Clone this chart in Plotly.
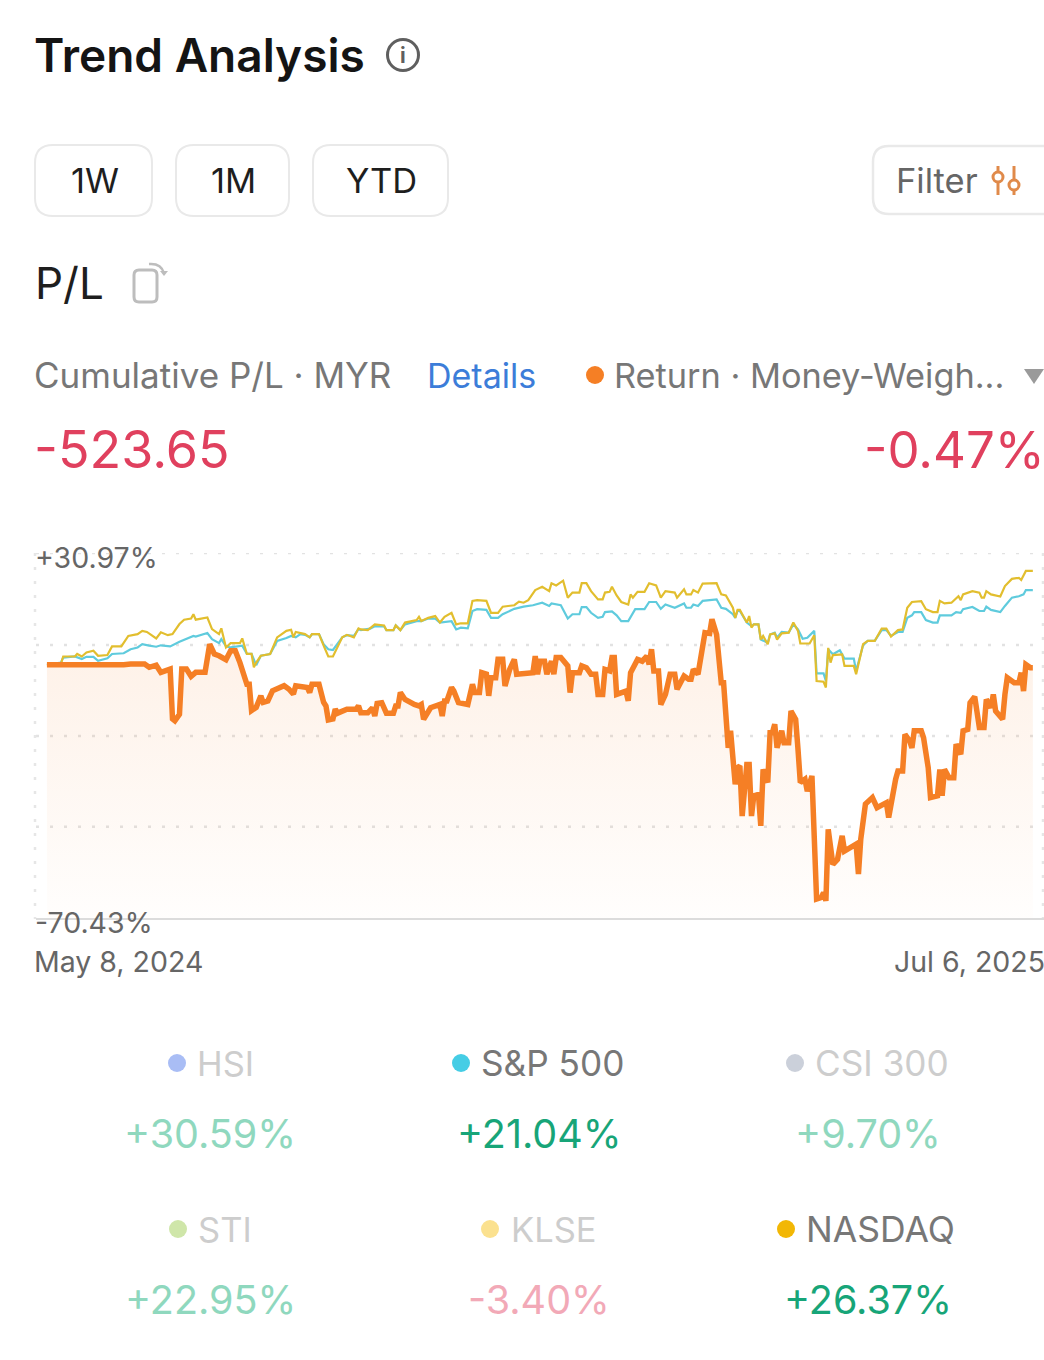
import pandas as pd
import plotly.graph_objects as go

START = pd.Timestamp("2024-05-08")
Y_TOP, Y_BOTTOM = 30.97, -70.43
GRID_VALUES = [30.97, 5.5, -19.7, -44.9]
RANGE_DAYS = [-4.7, 428.8]

orange_days = [0,33,36,42,44,47,49,53,54,55,57,58,60,62,64,68,70,72,74,77,79,81,83,86,87,88,90,92,93,95,97,102,104,106,107,112,113,114,117,119,120,121,123,124,125,129,133,134,
135,138,140,141,142,144,146,149,150,151,152,154,158,160,161,162,165,169,170,171,172,174,175,177,181,183,184,186,187,189,190,191,193,194,196,197,199,201,202,209,210,211,212,214,215,217,218,219,221,224,225,226,229,230,232,234,236,237,239,240,242,243,244,245,249,250,251,254,256,258,259,260,261,263,264,266,268,270,271,274,276,
277,278,280,283,285,286,288,290,291,293,294,296,297,298,299,301,302,303,304,306,307,308,310,311,312,313,314,316,317,319,320,322,323,324,326,327,329,331,333,334,335,336,338,340,342,343,348,349,350,352,355,357,361,362,365,366,368,369,371,372,373,376,377,379,380,383,384,385,386,388,390,391,393,394,396,397,399,401,403,404,406,407,408,411,412,413,416,418,419,420,421,423,424]
orange_pct = [0.0,0.0,0.2,0.2,-0.7,-0.1,-2.1,-1.2,-15.0,-15.5,-13.7,-1.2,-1.2,-3.2,-2.1,-2.1,5.7,3.0,2.5,1.4,3.9,3.9,0.6,-5.4,-5.4,-12.7,-11.8,-8.6,-10.4,-10.0,-7.2,-5.8,-6.7,-8.1,-5.8,-6.3,-7.7,-5.4,-5.4,-10.4,-11.4,-15.3,-15.0,-12.3,-13.4,-12.3,-12.3,-11.4,
-13.3,-13.3,-11.9,-14.2,-10.7,-10.5,-13.4,-13.4,-11.4,-11.4,-7.7,-9.6,-11.0,-11.4,-11.0,-15.1,-11.9,-11.0,-14.2,-10.0,-10.0,-6.3,-7.3,-10.5,-11.0,-5.4,-7.7,-7.7,-2.2,-2.6,-8.6,-3.6,-3.6,1.5,1.5,-5.9,-1.3,1.5,-2.6,-2.2,2.4,-2.6,1.0,1.0,-2.6,1.0,-2.6,2.0,2.0,-0.3,-7.7,-2.2,-2.2,-0.3,-0.8,-2.6,-2.6,-8.2,-8.2,-1.3,-1.7,2.0,2.0,-8.2,-7.3,-10.0,-2.2,1.5,1.0,2.4,0.1,4.3,-1.7,-1.7,-11.0,-8.2,-2.6,-2.6,-6.8,-3.1,-4.0,
-4.0,-1.3,-2.6,8.9,8.7,12.6,8.4,-5.0,-5.0,-23.0,-18.3,-33.1,-28.5,-28.0,-41.9,-27.6,-27.6,-41.9,-36.3,-35.9,-44.6,-29.0,-32.6,-18.8,-18.8,-16.5,-23.0,-18.3,-21.6,-21.6,-12.8,-15.1,-23.4,-32.6,-31.7,-35.0,-30.8,-64.9,-64.5,-63.1,-65.4,-45.6,-55.3,-53.9,-47.4,-51.6,-49.7,-58.0,-48.3,-38.6,-36.8,-39.6,-38.2,-42.3,-31.7,-29.4,-29.4,-19.3,-21.1,-23.0,-18.3,-18.3,-20.2,-28.5,-36.8,-36.3,-29.0,-36.3,-29.0,-31.3,-31.3,-22.0,-24.8,-18.3,-17.9,-10.5,-8.8,-17.4,-17.4,-9.6,-11.9,-8.2,-12.8,-15.1,-8.2,-3.6,-5.0,-5.0,-2.2,-7.3,0.1,-0.8,-0.8]

nasdaq_days = [0,6,7,12,13,15,17,20,22,26,28,32,35,39,41,43,47,49,52,54,57,59,62,63,64,69,71,74,75,77,79,83,84,86,88,89,90,92,96,99,103,105,106,107,111,113,114,117,119,121,123,127,129,132,134,
135,138,141,145,146,149,150,152,154,159,160,161,164,167,169,171,174,176,178,181,183,185,189,191,194,196,201,203,205,207,210,213,216,217,219,222,224,226,229,230,232,234,237,239,240,242,243,245,247,250,251,252,254,257,259,262,264,266,270,271,274,275,
277,278,280,282,288,290,292,295,296,297,298,301,302,303,304,306,307,308,310,311,313,314,316,319,321,323,324,328,330,331,334,335,336,337,338,342,343,347,348,351,353,356,359,361,363,366,368,370,372,376,378,381,383,384,386,389,392,393,394,398,401,402,403,404,406,410,412,415,418,419,421,424]
nasdaq_pct = [0.0,0.2,2.3,2.3,3.0,2.3,3.4,3.9,2.5,2.7,5.1,5.1,8.0,8.5,9.4,9.1,7.3,9.0,8.2,8.5,11.3,12.5,12.8,14.0,12.5,13.1,9.9,8.5,10.1,4.8,6.0,6.0,7.3,3.0,3.0,-0.7,0.6,2.5,3.0,7.6,9.4,9.7,7.6,9.1,8.5,7.6,8.5,8.5,5.3,2.3,2.3,7.6,8.3,7.6,10.1,
9.8,9.6,11.2,10.9,9.6,9.6,10.9,9.6,11.7,12.4,13.3,12.1,13.0,13.5,11.7,13.3,14.4,11.2,11.5,11.5,17.7,17.9,17.7,14.4,14.4,16.1,16.5,17.5,17.2,17.9,20.7,21.6,20.4,22.6,22.0,23.3,18.6,20.0,20.0,22.6,22.6,20.4,18.1,18.1,20.0,20.2,21.6,19.2,17.4,16.7,19.5,18.6,20.2,20.2,22.6,22.0,18.6,20.4,20.0,18.6,20.9,19.5,
19.5,20.7,20.0,22.5,22.6,19.5,19.2,15.8,13.0,15.2,15.2,11.7,13.5,10.3,11.2,11.2,7.0,8.0,5.7,8.4,8.7,7.0,8.7,8.9,11.7,9.4,5.9,5.9,8.2,-4.5,-4.7,-6.3,4.7,0.6,2.7,2.9,-0.3,-0.3,-2.6,5.7,6.6,6.6,10.0,10.0,7.8,9.6,9.8,15.8,17.4,17.6,15.4,14.6,14.6,17.7,17.0,17.2,19.0,17.9,19.5,20.4,20.0,18.6,18.6,20.4,19.5,18.9,21.8,23.8,24.1,23.5,26.0,26.0]

sp500_days = [0,6,7,12,15,17,20,22,26,28,33,36,39,41,44,47,49,53,57,60,63,64,69,71,74,75,77,79,83,84,86,88,90,92,96,99,103,105,107,109,111,113,114,117,119,121,123,127,129,132,134,
135,139,141,145,146,149,150,152,154,159,161,164,167,169,174,176,178,181,183,185,189,191,194,196,201,205,209,213,216,217,221,224,226,229,230,232,234,237,239,240,243,245,247,250,253,257,259,262,264,266,270,274,275,
277,278,280,282,288,290,292,295,296,297,298,301,303,304,306,307,310,311,313,314,316,319,321,323,325,327,330,331,334,335,336,338,341,343,347,348,351,353,356,359,361,363,366,368,370,372,373,376,378,381,383,384,389,391,393,394,398,401,403,404,406,410,412,415,418,420,421,424]
sp500_pct = [0.0,0.6,2.0,2.3,1.6,2.2,2.2,1.1,1.8,3.0,3.2,4.3,4.8,5.7,5.3,5.0,5.4,5.1,6.4,7.3,8.0,7.8,8.8,7.1,6.0,7.1,5.1,4.8,5.1,5.3,3.0,3.0,-0.1,2.5,3.0,6.6,7.4,8.0,7.6,8.5,8.3,7.6,8.5,8.5,5.7,4.3,4.1,7.6,8.2,8.0,9.9,
9.6,10.0,10.7,10.6,9.6,9.6,10.9,9.6,11.2,12.1,12.1,12.8,12.8,11.7,12.1,9.8,10.3,10.1,14.9,15.4,15.2,13.0,13.0,14.0,15.5,16.1,16.5,17.2,16.3,17.0,16.5,12.8,14.0,14.0,16.0,16.0,14.4,13.0,13.3,14.6,14.8,13.7,12.1,12.1,15.4,15.4,17.4,17.4,15.5,16.7,15.8,17.0,15.8,
15.8,16.7,16.3,17.7,18.1,15.8,15.5,14.0,13.0,14.9,14.9,11.7,10.7,11.2,11.2,7.0,6.1,8.4,8.9,7.5,9.1,8.9,11.2,9.8,7.2,7.5,9.4,-2.4,-2.4,-4.5,4.3,2.9,4.0,1.7,1.7,-1.7,5.4,6.6,6.6,9.6,9.6,8.0,9.1,9.1,13.0,13.7,14.6,14.6,12.4,11.7,11.7,13.7,13.7,14.6,14.4,15.4,16.0,14.9,14.9,16.1,15.2,14.6,16.3,18.6,19.0,19.5,20.7,20.7]

index_names = ["HSI", "S&P 500", "CSI 300", "STI", "KLSE", "NASDAQ"]
index_returns = ["+30.59%", "+21.04%", "+9.70%", "+22.95%", "-3.40%", "+26.37%"]
range_buttons = ["1W", "1M", "YTD"]
y_tick_labels = ["+30.97%", "-70.43%"]
x_tick_labels = ["May 8, 2024", "Jul 6, 2025"]
FONT = "Inter"


def to_dates(days):
    return [START + pd.Timedelta(days=float(d)) for d in days]


fig = go.Figure()
fig.add_trace(go.Scatter(x=to_dates(sp500_days), y=sp500_pct, mode="lines",
                         line=dict(color="#5FCBDD", width=2.2), name="S&P 500"))
fig.add_trace(go.Scatter(x=to_dates(nasdaq_days), y=nasdaq_pct, mode="lines",
                         line=dict(color="#E2BE2E", width=2.2), name="NASDAQ"))
fig.add_trace(go.Scatter(x=to_dates([orange_days[0], orange_days[-1]]), y=[Y_BOTTOM, Y_BOTTOM],
                         mode="lines", line=dict(width=0), name="floor"))
fig.add_trace(go.Scatter(x=to_dates(orange_days), y=orange_pct, mode="lines",
                         line=dict(color="#F57F25", width=5.5, simplify=False), name="Return",
                         fill="tonexty",
                         fillgradient=dict(type="vertical",
                                           colorscale=[[0, "rgba(245,127,37,0.01)"], [1, "rgba(245,127,37,0.12)"]],
                                           start=Y_BOTTOM, stop=15)))

W, H = 1044, 1360
fig.update_layout(
    width=W, height=H, margin=dict(l=0, r=0, t=0, b=0), showlegend=False,
    paper_bgcolor="rgba(0,0,0,0)", plot_bgcolor="rgba(0,0,0,0)", hovermode=False,
    font=dict(family=FONT),
    xaxis=dict(domain=[36 / W, 1], range=[START + pd.Timedelta(days=RANGE_DAYS[0]), START + pd.Timedelta(days=RANGE_DAYS[1])],
               showticklabels=False, ticks="", zeroline=False, showgrid=False,
               showline=False, anchor="y"),
    yaxis=dict(domain=[(H - 919) / H, (H - 553) / H], range=[Y_BOTTOM, Y_TOP],
               showticklabels=False, ticks="", zeroline=False, showgrid=False,
               showline=False, anchor="x"),
    xaxis2=dict(domain=[0, 1], range=[0, W], visible=False, anchor="y2"),
    yaxis2=dict(domain=[0, 1], range=[H, 0], visible=False, anchor="x2"),
)
# an invisible trace keeps the page-level axes alive
fig.add_trace(go.Scatter(x=[0], y=[0], xaxis="x2", yaxis="y2", mode="markers", marker=dict(opacity=0)))

ann, shp = [], []


def text(x, y, s, size, color, anchor="left", weight=400):
    shift = {"left": -2, "right": 2, "center": 0}[anchor]
    ann.append(dict(x=x, y=y, xref="x2", yref="y2", text=s, showarrow=False, xanchor=anchor,
                    yanchor="middle", xshift=shift, borderpad=0,
                    font=dict(family=FONT, size=size, color=color, weight=weight)))


def rrect(x0, y0, x1, y1, r, color, width):
    p = (f"M{x0+r},{y0} L{x1-r},{y0} Q{x1},{y0} {x1},{y0+r} L{x1},{y1-r} Q{x1},{y1} {x1-r},{y1} "
         f"L{x0+r},{y1} Q{x0},{y1} {x0},{y1-r} L{x0},{y0+r} Q{x0},{y0} {x0+r},{y0} Z")
    shp.append(dict(type="path", path=p, xref="x2", yref="y2", line=dict(color=color, width=width)))


def dot(cx, cy, r, fill, line=None, lw=0):
    shp.append(dict(type="circle", xref="x2", yref="y2", x0=cx - r, x1=cx + r, y0=cy - r, y1=cy + r,
                    fillcolor=fill, line=dict(color=line or fill, width=lw)))


def seg(x0, y0, x1, y1, color, width):
    shp.append(dict(type="line", xref="x2", yref="y2", x0=x0, y0=y0, x1=x1, y1=y1,
                    line=dict(color=color, width=width)))


# dotted chart grid: horizontal rows on the value axis, vertical edges on the page
GRID_DASH = "3px,11px"
for v in GRID_VALUES:
    shp.append(dict(type="line", xref="paper", yref="y", x0=36 / W, x1=1, y0=v, y1=v, layer="below",
                    line=dict(color="#E2E2E2", width=2.5, dash=GRID_DASH)))
for gx in [35, 1043]:
    shp.append(dict(type="line", xref="x2", yref="y2", x0=gx, x1=gx, y0=553, y1=919, layer="below",
                    line=dict(color="#E6E6E6", width=2.5, dash=GRID_DASH)))

# header
text(35, 55, "Trend Analysis", 46, "#141414", weight=600)
dot(403, 55, 15.5, "rgba(0,0,0,0)", "#5F5F5F", 3)
text(403, 55, "i", 21, "#5F5F5F", "center", 700)

# range buttons
for (x0, x1), label in zip([(35, 152), (176, 289), (313, 448)], range_buttons):
    rrect(x0, 145, x1, 216, 18, "#E9E9E9", 2)
    text((x0 + x1) / 2 + 1, 180, label, 34.5, "#1E1E1E", "center")

# filter button
rrect(873, 146, 1060, 214, 16, "#E9E9E9", 2.5)
text(897, 180, "Filter", 34.5, "#666666")
for cx, cy in [(998, 177), (1014, 185)]:
    seg(cx, 166, cx, 195, "#E08A4A", 3)
    dot(cx, cy, 5, "white", "#E08A4A", 3)

# P/L
text(36, 283, "P/L", 44, "#1E1E1E")
rrect(134, 270, 157, 302, 5, "#BDBDBD", 3)
shp.append(dict(type="path", xref="x2", yref="y2", line=dict(color="#BDBDBD", width=2.5),
                path="M149,264 Q161,263 164,273"))
shp.append(dict(type="path", xref="x2", yref="y2", fillcolor="#BDBDBD", line=dict(width=0),
                path="M160,271 L168,271 L164,276 Z"))

# summary row
text(35, 375, "Cumulative P/L · MYR", 35, "#777777")
text(428, 375, "Details", 34, "#3C7DD9")
dot(595, 375, 9, "#F57F25")
text(615, 375, "Return · Money-Weigh...", 34.3, "#777777")
shp.append(dict(type="path", xref="x2", yref="y2", fillcolor="#9A9A9A", line=dict(width=0),
                path="M1024,369 L1044,369 L1034,384 Z"))
text(35, 449, "-523.65", 52, "#E0405E")
text(1044, 449, "-0.47%", 51, "#E0405E", "right")

# chart floor and axis labels
seg(36, 919, W, 919, "#DCDCDC", 2)
text(36, 557, y_tick_labels[0], 28.5, "#666666")
text(36, 922, y_tick_labels[1], 28.5, "#666666")
text(35, 961, x_tick_labels[0], 28.5, "#666666")
text(1044, 961, x_tick_labels[1], 28.5, "#666666", "right")

# index grid
dots_x = [177, 461, 795, 178, 490, 786]
labels_x = [198, 482, 816, 199, 512, 807]
values_x = [210, 539, 868, 210, 539, 868]
rows_y = [(1063, 1134), (1063, 1134), (1063, 1134), (1229, 1300), (1229, 1300), (1229, 1300)]
dot_colors = ["#A9BDF5", "#45CDE5", "#CBD0DA", "#CFE6A9", "#FBE18F", "#F2B705"]
label_colors = ["#CDCDCD", "#777777", "#CDCDCD", "#CDCDCD", "#CDCDCD", "#777777"]
label_sizes = [34.5, 35.2, 35.2, 34.5, 34.5, 35.5]
value_colors = ["#8FD8BE", "#17A578", "#8FD8BE", "#8FD8BE", "#F2A9B7", "#17A578"]
for i, name in enumerate(index_names):
    ly, vy = rows_y[i]
    dot(dots_x[i], ly, 9, dot_colors[i])
    text(labels_x[i], ly, name, label_sizes[i], label_colors[i])
    text(values_x[i], vy, index_returns[i], 39.5, value_colors[i], "center")

fig.update_layout(annotations=ann, shapes=shp)
fig.write_html("out.html", config=dict(displayModeBar=False, responsive=False),
               post_script="document.body.style.margin='0';document.body.style.overflow='hidden';")
